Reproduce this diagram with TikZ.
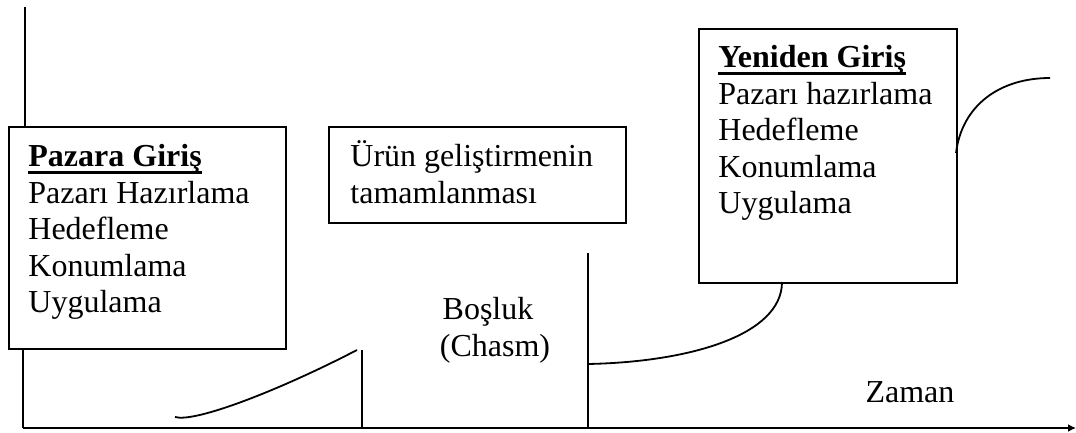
\documentclass[tikz,border=0pt]{standalone}
\usepackage{fontspec}
\setmainfont{Liberation Serif}
\usetikzlibrary{arrows.meta}
% bold heading with a heavy rule underneath
\newcommand\headline[1]{\setbox0\hbox{\bfseries #1}\rlap{\rule[-3.5pt]{\wd0}{1.5pt}}\box0}
\begin{document}
\begin{tikzpicture}[x=0.5pt,y=-0.5pt,
  frame/.style={draw, line width=1pt, fill=white, inner sep=0pt, anchor=north west},
  txt/.style={inner sep=0pt, font=\fontsize{16}{18.2}\selectfont},
  axisline/.style={line width=1pt},
  curve/.style={line width=0.9pt}]
\useasboundingbox (0,0) rectangle (1076,433);

% boxes
\node[frame, minimum width=138.5pt, minimum height=111pt] (entry) at (8,126) {};
\node[frame, minimum width=148.5pt, minimum height=48pt] (product) at (328,126) {};
\node[frame, minimum width=129pt, minimum height=127pt] (reentry) at (698,28) {};

% texts
\node[txt, anchor=base west] (entrytext) at (28,167)
  {\begin{tabular}[t]{@{}l@{}}\headline{Pazara Giriş}\\ Pazarı Hazırlama\\ Hedefleme\\ Konumlama\\ Uygulama\end{tabular}};
\node[txt, anchor=base west] (producttext) at (350,167)
  {\begin{tabular}[t]{@{}l@{}}Ürün geliştirmenin\\ tamamlanması\end{tabular}};
\node[txt, anchor=base west] (reentrytext) at (718,68)
  {\begin{tabular}[t]{@{}l@{}}\headline{Yeniden Giriş}\\ Pazarı hazırlama\\ Hedefleme\\ Konumlama\\ Uygulama\end{tabular}};
\node[txt, anchor=base] (gap) at (488,319) {Boşluk};
\node[txt, anchor=base] (chasm) at (495,356) {(Chasm)};
\node[txt, anchor=base] (time) at (910,402) {Zaman};

% axes
\coordinate (origin) at (23,428);
\coordinate (xend) at (1076,428);
\coordinate (ytop) at (25,7);
\draw[axisline] (ytop) -- (ytop |- entry.north);
\draw[axisline] (origin |- entry.south) -- (origin);
\draw[axisline, -{Latex[length=4pt,width=4pt]}] (origin) -- (xend);

% edges of the chasm
\coordinate (gapleft) at (362,350);
\coordinate (gapright) at (588,253);
\draw[axisline] (gapleft) -- (gapleft |- origin);
\draw[axisline] (gapright) -- (gapright |- origin);

% adoption curves
\coordinate (riseA) at (175,417);
\coordinate (riseB) at (357,350);
\draw[curve] (riseA) .. controls (195,423) and (280,390) .. (riseB);
\coordinate (dropA) at (782,282);
\coordinate (dropB) at (588,364);
\draw[curve] (dropA) .. controls (782,335) and (690,362) .. (dropB);
\coordinate (arcA) at (956,153);
\coordinate (arcB) at (1050,78);
\draw[curve] (arcA) .. controls (962,105) and (1000,78) .. (arcB);
\end{tikzpicture}
\end{document}
